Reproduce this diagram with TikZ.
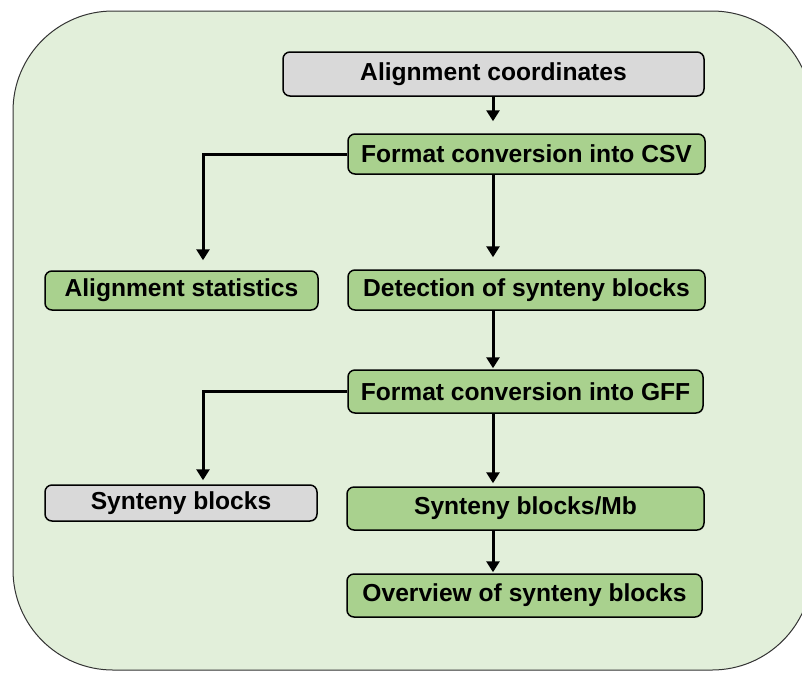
\documentclass[tikz,border=0pt]{standalone}
\usepackage{fontspec}
\setmainfont{Liberation Sans}
\usetikzlibrary{arrows.meta}
\definecolor{panelgreen}{HTML}{E2EFDA}
\definecolor{boxgreen}{HTML}{A9D18E}
\definecolor{boxgray}{HTML}{D9D9D9}
\tikzset{
  stepbox/.style={draw=black, line width=1.5pt, rounded corners=7pt,
    inner sep=0pt, align=center,
    font=\fontsize{24.6}{28}\selectfont\bfseries},
  greenbox/.style={stepbox, fill=boxgreen},
  graybox/.style={stepbox, fill=boxgray},
  flow/.style={line width=3pt, -{Triangle[width=13pt,length=11pt]}}
}
\begin{document}
\begin{tikzpicture}[x=1pt, y=-1pt]
  \useasboundingbox (0,0) rectangle (802,673);
  % background panel, partly running off the page
  \begin{scope}
    \clip (0,0) rectangle (802,673);
    \draw[fill=panelgreen, draw=black!80, line width=1pt, rounded corners=100pt]
      (13,11) rectangle (812,670);
  \end{scope}

  % process steps
  \node[graybox, minimum width=421pt, minimum height=44pt] (coords) at (493.5,74) {Alignment coordinates};
  \node[greenbox, minimum width=357pt, minimum height=40pt] (csv) at (526.5,154) {Format conversion into CSV};
  \node[greenbox, minimum width=273pt, minimum height=39pt] (stats) at (181.5,290.5) {Alignment statistics};
  \node[greenbox, minimum width=357pt, minimum height=40pt] (detect) at (526.5,290) {Detection of synteny blocks};
  \node[greenbox, minimum width=355pt, minimum height=43pt] (gff) at (525.5,391.5) {Format conversion into GFF};
  \node[graybox, minimum width=272pt, minimum height=36pt] (synb) at (181,503) {Synteny blocks};
  \node[greenbox, minimum width=357pt, minimum height=43pt] (synmb) at (525.5,508.5) {Synteny blocks/Mb};
  \node[greenbox, minimum width=355pt, minimum height=43pt] (overview) at (524.5,595.5) {Overview of synteny blocks};

  % vertical guides for the connectors
  \coordinate (spine) at (493,0);
  \coordinate (side) at (203,0);

  % connectors
  \draw[flow, shorten >=12pt] (coords.south -| spine) -- (csv.north -| spine);
  \draw[flow, shorten >=12pt] (csv.south -| spine) -- (detect.north -| spine);
  \draw[flow, shorten >=10pt] (csv.west) -| (stats.north -| side);
  \draw[flow, shorten >=1pt] (detect.south -| spine) -- (gff.north -| spine);
  \draw[flow, shorten >=4pt] (gff.west) -| (synb.north -| side);
  \draw[flow, shorten >=3pt] (gff.south -| spine) -- (synmb.north -| spine);
  \draw[flow, shorten >=1pt] (synmb.south -| spine) -- (overview.north -| spine);
\end{tikzpicture}
\end{document}
